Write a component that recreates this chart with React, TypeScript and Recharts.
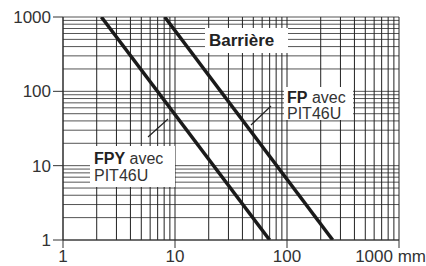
import React from 'react';
import { LineChart, Line, XAxis, YAxis, CartesianGrid, Customized } from 'recharts';

const xTicks = [1, 10, 100, 1000];
const yTicks = [1, 10, 100, 1000];
const xGrid = [1, 2, 3, 4, 5, 6, 7, 8, 9, 10, 20, 30, 40, 50, 60, 70, 80, 90, 100, 200, 300, 400, 500, 600, 700, 800, 900, 1000];
const yGrid = [1, 2, 3, 4, 5, 6, 7, 8, 9, 10, 20, 30, 40, 50, 60, 70, 80, 90, 100, 200, 300, 400, 500, 600, 700, 800, 900, 1000];

const fpyX = [2.2, 70];
const fpyY = [1000, 1];
const fpX = [8.1, 256];
const fpY = [1000, 1];

const fpyData = fpyX.map((x, i) => ({ x, y: fpyY[i] }));
const fpData = fpX.map((x, i) => ({ x, y: fpY[i] }));

const FONT = '"Liberation Sans", Arial, sans-serif';

const XTick = (props: any) => {
  const { x, y, payload } = props;
  const isLast = payload.value === 1000;
  return (
    <text
      x={isLast ? x + 27 : x}
      y={y}
      dy="0.71em"
      textAnchor={isLast ? 'end' : 'middle'}
      fontSize={17}
      fontFamily={FONT}
      fill="#333"
    >
      {isLast ? '1000 mm' : String(payload.value)}
    </text>
  );
};

const YTick = (props: any) => {
  const { x, y, payload } = props;
  return (
    <text x={x} y={y} dy="0.355em" textAnchor="end" fontSize={17} fontFamily={FONT} fill="#333">
      {String(payload.value)}
    </text>
  );
};

const Annotations = () => (
  <g fontFamily={FONT} fill="#222">
    <rect x={205} y={28} width={83} height={25} fill="#fff" />
    <text x={209} y={46} fontSize={17} fontWeight="bold" fill="#222">Barrière</text>

    <rect x={284} y={87} width={69} height={33} fill="#fff" />
    <text x={287} y={103} fontSize={16} fill="#333">
      <tspan fontWeight="bold" fill="#222">FP</tspan> avec
    </text>
    <text x={287} y={119} fontSize={16} fill="#333">PIT46U</text>
    <line x1={251} y1={125} x2={271} y2={106} stroke="#222" strokeWidth={1.2} />

    <rect x={90} y={146} width={85} height={41} fill="#fff" />
    <text x={94} y={164} fontSize={16} fill="#333">
      <tspan fontWeight="bold" fill="#222">FPY</tspan> avec
    </text>
    <text x={94} y={181} fontSize={16} fill="#333">PIT46U</text>
    <line x1={148} y1={137} x2={168} y2={119} stroke="#222" strokeWidth={1.2} />
  </g>
);

export default function App() {
  return (
    <div style={{ position: 'absolute', left: 0, top: 0, background: '#fff' }}>
      <LineChart width={426} height={266} margin={{ top: 17, right: 27, bottom: 0, left: 0 }}>
        <CartesianGrid
          horizontal={true}
          vertical={false}
          horizontalValues={yGrid}
          stroke="#555"
          strokeWidth={1}
        />
        <CartesianGrid
          horizontal={false}
          vertical={true}
          verticalValues={xGrid}
          stroke="#222"
          strokeWidth={1}
        />
        <XAxis
          dataKey="x"
          type="number"
          scale="log"
          domain={[1, 1000]}
          ticks={xTicks}
          allowDataOverflow
          height={26}
          tickSize={8}
          tickLine={{ stroke: '#333' }}
          axisLine={{ stroke: '#333' }}
          tick={<XTick />}
          interval={0}
        />
        <YAxis
          dataKey="y"
          type="number"
          scale="log"
          domain={[1, 1000]}
          ticks={yTicks}
          allowDataOverflow
          width={63}
          tickSize={10}
          tickLine={{ stroke: '#333' }}
          axisLine={{ stroke: '#333' }}
          tick={<YTick />}
          interval={0}
        />
        <Line data={fpyData} dataKey="y" stroke="#1a1a1a" strokeWidth={3.5} dot={false} isAnimationActive={false} />
        <Line data={fpData} dataKey="y" stroke="#1a1a1a" strokeWidth={3.5} dot={false} isAnimationActive={false} />
        <Customized component={Annotations} />
      </LineChart>
    </div>
  );
}
